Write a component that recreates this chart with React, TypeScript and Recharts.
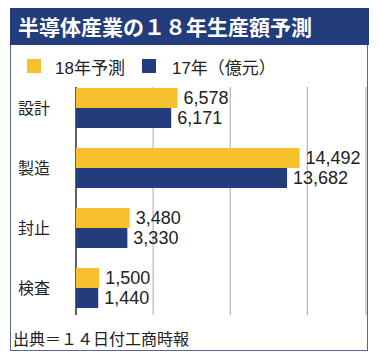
import React from 'react';
import { BarChart, Bar, XAxis, YAxis, CartesianGrid, LabelList } from 'recharts';

const categories = ['設計', '製造', '封止', '検査'];
const forecast18 = [6578, 14492, 3480, 1500];
const actual17 = [6171, 13682, 3330, 1440];
const xTicks = [0, 5000, 10000, 15000];

const YELLOW = '#f6c12c';
const NAVY = '#233c7b';
const FONT = '"Liberation Sans", Arial, "Noto Sans CJK JP", sans-serif';

const data = categories.map((name, i) => ({ name, y18: forecast18[i], y17: actual17[i] }));

const CategoryTick = (props: any) => {
  const { y, payload } = props;
  return (
    <text x={18} y={y} dy={6} fontSize={16} fill="#222" fontFamily={FONT}>
      {payload.value}
    </text>
  );
};

const fmt = (v: any) => Number(v).toLocaleString('en-US');

export default function App() {
  return (
    <div style={{ position: 'absolute', left: 0, top: 0, width: 381, height: 364, background: '#fff', fontFamily: FONT }}>
      <div style={{ position: 'absolute', left: 10, top: 8, width: 356, height: 341, border: '1.5px solid #55678c' }} />
      <div style={{ position: 'absolute', left: 10, top: 8, width: 359, height: 37, background: NAVY, color: '#fff', fontWeight: 'bold', fontSize: 21, lineHeight: '37px', paddingLeft: 8, boxSizing: 'border-box', fontFamily: '"Noto Sans CJK JP", sans-serif', letterSpacing: 0 }}>
        半導体産業の１８年生産額予測
      </div>
      <div style={{ position: 'absolute', left: 27, top: 57, fontSize: 17, color: '#222', display: 'flex', alignItems: 'center', height: 18 }}>
        <span style={{ width: 14, height: 14, background: YELLOW, display: 'inline-block' }} />
        <span style={{ marginLeft: 14 }}>18年予測</span>
        <span style={{ width: 14, height: 14, background: NAVY, display: 'inline-block', marginLeft: 17 }} />
        <span style={{ marginLeft: 16 }}>17年（億元）</span>
      </div>
      <div style={{ position: 'absolute', left: 0, top: 0 }}>
        <BarChart
          width={381}
          height={364}
          data={data}
          layout="vertical"
          margin={{ top: 78, right: 15, bottom: 46, left: 0 }}
          barSize={20}
          barGap={0}
        >
          <CartesianGrid horizontal={false} stroke="#b5b5b5" strokeWidth={1.2} y={87} height={228} />
          <CartesianGrid
            horizontal={false}
            stroke="#111"
            strokeWidth={1.2}
            y={87}
            height={228}
            verticalCoordinatesGenerator={(p: any) => [p.offset.left]}
          />
          <XAxis type="number" domain={[0, 18800]} ticks={xTicks} hide />
          <YAxis type="category" dataKey="name" width={76} axisLine={false} tickLine={false} tick={<CategoryTick />} />
          <Bar dataKey="y18" fill={YELLOW} isAnimationActive={false}>
            <LabelList dataKey="y18" position="right" offset={6} formatter={fmt} fontSize={18} fill="#222" fontFamily={FONT} />
          </Bar>
          <Bar dataKey="y17" fill={NAVY} isAnimationActive={false}>
            <LabelList dataKey="y17" position="right" offset={6} formatter={fmt} fontSize={18} fill="#222" fontFamily={FONT} />
          </Bar>
        </BarChart>
      </div>
      <div style={{ position: 'absolute', left: 13, top: 328, fontSize: 16, color: '#222', lineHeight: '20px', fontFamily: '"Noto Sans CJK JP", sans-serif' }}>
        出典＝１４日付工商時報
      </div>
    </div>
  );
}
